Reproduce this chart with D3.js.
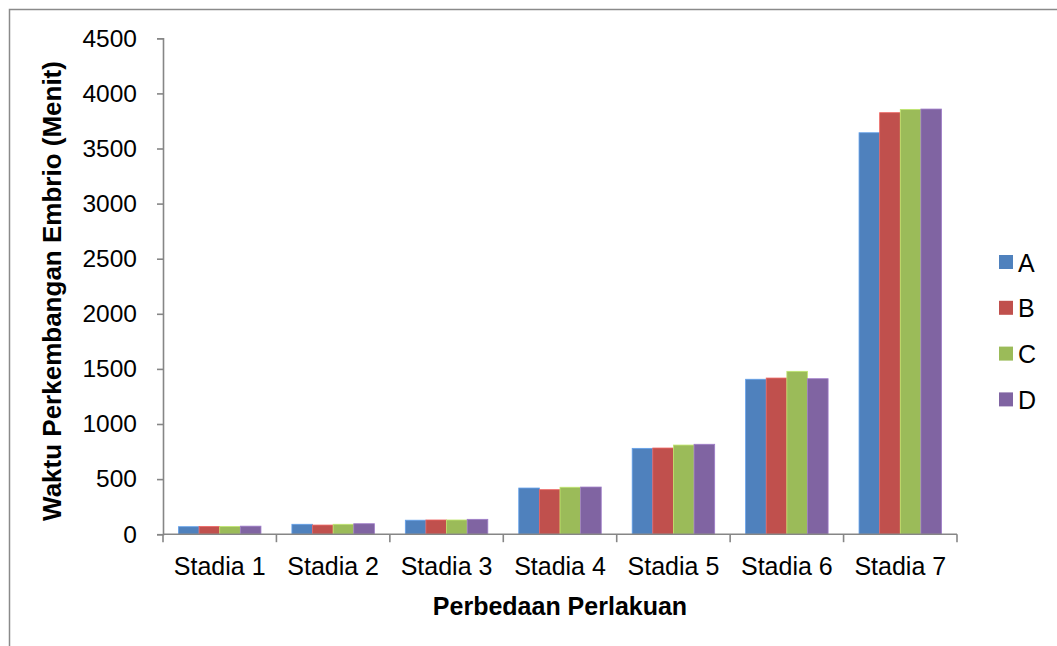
<!DOCTYPE html>
<html>
<head>
<meta charset="utf-8">
<script src="https://cdn.jsdelivr.net/npm/d3@7"></script>
<style>
  html, body { margin: 0; padding: 0; background: #fff; }
  svg { display: block; }
  text { font-family: "Liberation Sans", Arial, sans-serif; fill: #000; }
</style>
</head>
<body>
<svg id="chart" width="1057" height="646"></svg>
<script>
// Embryo development time per stage, for treatments A–D (minutes)
const categories = ["Stadia 1", "Stadia 2", "Stadia 3", "Stadia 4", "Stadia 5", "Stadia 6", "Stadia 7"];
const seriesNames = ["A", "B", "C", "D"];
const valuesA = [68, 90, 127, 419, 779, 1406, 3643];
const valuesB = [70, 83, 129, 404, 782, 1417, 3825];
const valuesC = [70, 90, 129, 426, 809, 1478, 3855];
const valuesD = [73, 95, 135, 428, 816, 1411, 3858];
const yTicks = [0, 500, 1000, 1500, 2000, 2500, 3000, 3500, 4000, 4500];
const colors = ["#4F81BD", "#C0504D", "#9BBB59", "#8064A2"];

const seriesValues = [valuesA, valuesB, valuesC, valuesD];
const data = categories.map((c, i) => ({
  category: c,
  values: seriesNames.map((s, j) => ({ key: s, value: seriesValues[j][i] }))
}));

const svg = d3.select("#chart");

// outer chart frame
svg.append("rect")
  .attr("x", 9.5).attr("y", 9.5)
  .attr("width", 1100).attr("height", 700)
  .attr("fill", "none").attr("stroke", "#8a8a8a").attr("stroke-width", 1.5);

const plot = { left: 163, right: 957, top: 38.3, bottom: 534.2 };

const x0 = d3.scaleBand().domain(categories).range([plot.left, plot.right]).padding(0);
const gap = x0.bandwidth() * 1.5 / (seriesNames.length + 1.5);
const x1 = d3.scaleBand().domain(seriesNames)
  .range([gap / 2, x0.bandwidth() - gap / 2]).padding(0);
const y = d3.scaleLinear().domain([0, 4500]).range([plot.bottom, plot.top]);
const color = d3.scaleOrdinal().domain(seriesNames).range(colors);

// bars
const groups = svg.append("g").selectAll("g")
  .data(data).join("g")
  .attr("transform", d => `translate(${x0(d.category)},0)`);

groups.selectAll("rect")
  .data(d => d.values).join("rect")
  .attr("x", d => x1(d.key))
  .attr("y", d => y(d.value))
  .attr("width", x1.bandwidth())
  .attr("height", d => y(0) - y(d.value))
  .attr("fill", d => color(d.key))
  .attr("stroke", d => d3.color(color(d.key)).brighter(0.6))
  .attr("stroke-width", 0.8);

const axisColor = "#868686";

// y axis
const yAxis = svg.append("g")
  .attr("transform", `translate(${plot.left},0)`)
  .call(d3.axisLeft(y).tickValues(yTicks).tickSize(6).tickPadding(20).tickFormat(d3.format("d")));
yAxis.select(".domain").attr("stroke", axisColor).attr("stroke-width", 1.6);
yAxis.selectAll(".tick line").attr("stroke", axisColor).attr("stroke-width", 1.6);
yAxis.selectAll(".tick text")
  .attr("font-size", 24.5).attr("fill", "#000")
  .style("font-family", "'Liberation Sans', Arial, sans-serif");

// x axis: ticks sit on the category boundaries
const xAxis = svg.append("g")
  .attr("transform", `translate(0,${plot.bottom})`);
xAxis.append("line")
  .attr("x1", plot.left).attr("x2", plot.right)
  .attr("stroke", axisColor).attr("stroke-width", 1.6);
const boundaries = categories.map(c => x0(c)).concat([plot.right]);
xAxis.selectAll(".btick").data(boundaries).join("line")
  .attr("class", "btick")
  .attr("x1", d => d).attr("x2", d => d)
  .attr("y1", 0).attr("y2", 8)
  .attr("stroke", axisColor).attr("stroke-width", 1.6);
xAxis.selectAll(".xlabel").data(categories).join("text")
  .attr("class", "xlabel")
  .attr("x", d => x0(d) + x0.bandwidth() / 2)
  .attr("y", 41)
  .attr("text-anchor", "middle")
  .attr("font-size", 25)
  .text(d => d);

// axis titles
svg.append("text")
  .attr("x", (plot.left + plot.right) / 2)
  .attr("y", 615)
  .attr("text-anchor", "middle")
  .attr("font-size", 25)
  .attr("font-weight", "bold")
  .text("Perbedaan Perlakuan");

svg.append("text")
  .attr("transform", `translate(61,291) rotate(-90)`)
  .attr("text-anchor", "middle")
  .attr("font-size", 26)
  .attr("font-weight", "bold")
  .text("Waktu Perkembangan Embrio (Menit)");

// legend
const legend = svg.append("g").selectAll("g")
  .data(seriesNames).join("g")
  .attr("transform", (d, i) => `translate(999,${255 + i * 45.8})`);
legend.append("rect")
  .attr("width", 14).attr("height", 14)
  .attr("fill", d => color(d));
legend.append("text")
  .attr("x", 19).attr("y", 16.5)
  .attr("font-size", 25)
  .text(d => d);
</script>
</body>
</html>
